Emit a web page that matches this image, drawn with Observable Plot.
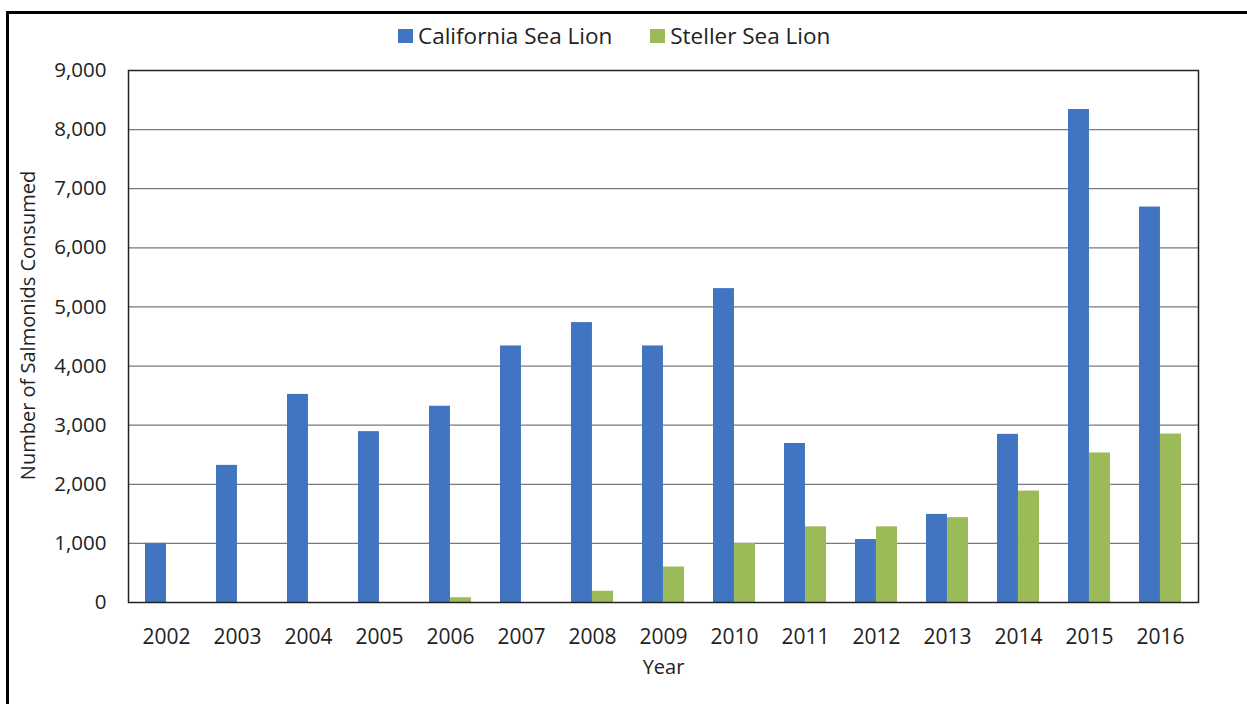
<!DOCTYPE html>
<html>
<head>
<meta charset="utf-8">
<script src="https://cdn.jsdelivr.net/npm/d3@7"></script>
<script src="https://cdn.jsdelivr.net/npm/@observablehq/plot@0.6"></script>
<style>
  html, body { margin: 0; padding: 0; background: #fff; }
  #wrap { position: relative; width: 1247px; height: 704px; overflow: hidden; font-family: "Open Sans", sans-serif; }
  #border { position: absolute; left: 6px; top: 11px; width: 1300px; height: 800px; border: 3px solid #000; box-sizing: border-box; }
  #legend { position: absolute; top: 21px; left: 398px; display: flex; align-items: center; font-size: 22.5px; line-height: 30px; color: #222; }
  .sw { display: inline-block; width: 15px; height: 14px; margin-right: 5px; }
  .item { display: flex; align-items: center; margin-right: 38px; }
  #chart { position: absolute; left: 0; top: 0; }
</style>
</head>
<body>
<div id="wrap">
  <div id="border"></div>
  <div id="chart"></div>
  <div id="legend"></div>
</div>
<script>
const years = ["2002","2003","2004","2005","2006","2007","2008","2009","2010","2011","2012","2013","2014","2015","2016"];
const californiaSeaLion = [1000, 2320, 3520, 2890, 3320, 4340, 4735, 4340, 5310, 2690, 1065, 1490, 2845, 8340, 6690];
const stellerSeaLion = [0, 0, 0, 0, 80, 0, 190, 600, 1000, 1280, 1280, 1435, 1885, 2530, 2850];
const seriesNames = ["California Sea Lion", "Steller Sea Lion"];
const seriesColors = ["#4174C1", "#9BBB59"];
const yTicks = [0, 1000, 2000, 3000, 4000, 5000, 6000, 7000, 8000, 9000];

const rowsCA = years.map((year, i) => ({year, series: seriesNames[0], value: californiaSeaLion[i]}));
const rowsSSL = years.map((year, i) => ({year, series: seriesNames[1], value: stellerSeaLion[i]}));

const W = 1247, H = 704, mL = 128, mR = 49, mT = 70, mB = 102;
const padIn = 0.41, padOut = 0.205;
const step = (W - mL - mR) / (years.length - padIn + 2 * padOut);
const half = step * (1 - padIn) / 2;

const chart = Plot.plot({
  width: W, height: H,
  marginLeft: mL, marginRight: mR, marginTop: mT, marginBottom: mB,
  style: {fontFamily: "'Open Sans', sans-serif", fontSize: "20px", color: "#222", background: "transparent"},
  x: {domain: years, paddingInner: padIn, paddingOuter: padOut, label: null},
  y: {domain: [0, 9000], label: null},
  color: {domain: seriesNames, range: seriesColors},
  marks: [
    Plot.gridY(yTicks, {stroke: "#7a7a7a", strokeOpacity: 1, strokeWidth: 1.2}),
    Plot.barY(rowsCA, {x: "year", y: "value", fill: "series", insetRight: half}),
    Plot.barY(rowsSSL, {x: "year", y: "value", fill: "series", insetLeft: half}),
    Plot.frame({stroke: "#222", strokeWidth: 1.5}),
    Plot.axisY(yTicks, {tickSize: 0, tickPadding: 22, tickFormat: d3.format(","), fontSize: 20.5, label: null}),
    Plot.axisX({tickSize: 0, tickPadding: 27, fontSize: 21, label: null}),
    Plot.text(["Year"], {frameAnchor: "bottom", dy: 71, fontSize: 20, fill: "#222"}),
    Plot.text(["Number of Salmonids Consumed"], {frameAnchor: "left", textAnchor: "middle", dx: -100, dy: -11, rotate: -90, fontSize: 20, fill: "#222"})
  ]
});
document.getElementById("chart").appendChild(chart);

const legend = document.getElementById("legend");
seriesNames.forEach((name, i) => {
  const item = document.createElement("span");
  item.className = "item";
  const sw = document.createElement("span");
  sw.className = "sw";
  sw.style.background = chart.scale("color").apply(name);
  item.appendChild(sw);
  item.appendChild(document.createTextNode(name));
  legend.appendChild(item);
});
</script>
</body>
</html>
